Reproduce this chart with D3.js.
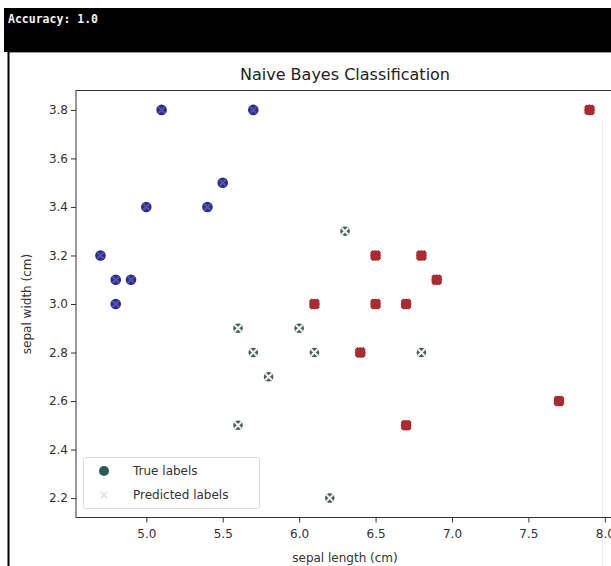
<!DOCTYPE html>
<html>
<head>
<meta charset="utf-8">
<script src="https://cdn.jsdelivr.net/npm/d3@7"></script>
<style>
  body { margin: 0; background: #fff; }
  svg { display: block; }
  text { font-family: "DejaVu Sans", sans-serif; }
</style>
</head>
<body>
<div id="chart"></div>
<script>
// iris test split: sepal length / width, true class, predicted class
const sepalLength = [6.3, 5.6, 6.0, 5.7, 6.1, 6.8, 5.8, 5.6, 6.2,
  5.1, 5.7, 5.5, 5.0, 5.4, 4.7, 4.8, 4.9, 4.8,
  6.5, 6.8, 6.9, 6.1, 6.5, 6.7, 6.4, 7.7, 6.7, 7.9];
const sepalWidth = [3.3, 2.9, 2.9, 2.8, 2.8, 2.8, 2.7, 2.5, 2.2,
  3.8, 3.8, 3.5, 3.4, 3.4, 3.2, 3.1, 3.1, 3.0,
  3.2, 3.2, 3.1, 3.0, 3.0, 3.0, 2.8, 2.6, 2.5, 3.8];
const trueLabel = [1, 1, 1, 1, 1, 1, 1, 1, 1,
  0, 0, 0, 0, 0, 0, 0, 0, 0,
  2, 2, 2, 2, 2, 2, 2, 2, 2, 2];
const predLabel = trueLabel.slice(); // accuracy 1.0
const xTicks = [5.0, 5.5, 6.0, 6.5, 7.0, 7.5, 8.0];
const yTicks = [2.2, 2.4, 2.6, 2.8, 3.0, 3.2, 3.4, 3.6, 3.8];
const legendLabels = ["True labels", "Predicted labels"];

const trueColor = ["#2f2b84", "#48605c", "#9e3034"];
const predColor = ["#4c55b0", "#f2f2f2", "#ad2a30"];

const W = 611, H = 566;
const svg = d3.select("#chart").append("svg")
  .attr("width", W).attr("height", H);

// notebook output frame
svg.append("rect").attr("x", 4).attr("y", 8).attr("width", W - 4).attr("height", 44).attr("fill", "#000");
svg.append("text").attr("x", 8).attr("y", 23)
  .style("font-family", "'DejaVu Sans Mono', monospace").style("font-size", "11.5px")
  .style("font-weight", "bold").attr("fill", "#f4f4f4").text("Accuracy: 1.0");
svg.append("line").attr("x1", 8).attr("x2", W).attr("y1", 52.5).attr("y2", 52.5)
  .attr("stroke", "#9a9a9a");
svg.append("line").attr("x1", 8.5).attr("x2", 8.5).attr("y1", 52).attr("y2", H)
  .attr("stroke", "#000").attr("stroke-width", 2);
svg.append("line").attr("x1", 602.5).attr("x2", 602.5).attr("y1", 120).attr("y2", H)
  .attr("stroke", "#eeeeee");

const mLeft = 76, mRight = 614, mTop = 90.5, mBottom = 517.5;
const x = d3.scaleLinear().domain([4.54, 8.06]).range([mLeft, mRight]);
const y = d3.scaleLinear().domain([2.12, 3.88]).range([mBottom, mTop]);

const xAxis = svg.append("g").attr("transform", `translate(0,${mBottom})`)
  .call(d3.axisBottom(x).tickValues(xTicks).tickFormat(d3.format(".1f")).tickSize(5).tickSizeOuter(0));
const yAxis = svg.append("g").attr("transform", `translate(${mLeft},0)`)
  .call(d3.axisLeft(y).tickValues(yTicks).tickFormat(d3.format(".1f")).tickSize(5).tickSizeOuter(0));
[xAxis, yAxis].forEach(a => {
  a.select(".domain").remove();
  a.selectAll("line").attr("stroke", "#333");
  a.selectAll("text").attr("fill", "#333").style("font-size", "12px")
    .style("font-family", "'DejaVu Sans', sans-serif");
});
xAxis.selectAll("text").attr("dy", "1.05em");

svg.append("rect").attr("x", mLeft).attr("y", mTop)
  .attr("width", mRight - mLeft).attr("height", mBottom - mTop)
  .attr("fill", "none").attr("stroke", "#333").attr("stroke-width", 1);

svg.append("text").attr("x", (mLeft + mRight) / 2).attr("y", 80)
  .attr("text-anchor", "middle").style("font-size", "16px").attr("fill", "#222")
  .text("Naive Bayes Classification");
svg.append("text").attr("x", (mLeft + mRight) / 2).attr("y", 562)
  .attr("text-anchor", "middle").style("font-size", "12px").attr("fill", "#333")
  .text("sepal length (cm)");
svg.append("text").attr("transform", `translate(31,${(mTop + mBottom) / 2}) rotate(-90)`)
  .attr("text-anchor", "middle").style("font-size", "12px").attr("fill", "#333")
  .text("sepal width (cm)");

const idx = d3.range(sepalLength.length);
svg.append("g").selectAll("circle").data(idx).join("circle")
  .attr("cx", i => x(sepalLength[i])).attr("cy", i => y(sepalWidth[i]))
  .attr("r", i => trueLabel[i] === 1 ? 4.8 : 5.3)
  .attr("fill", i => trueColor[trueLabel[i]]);

const cross = d3.symbol().type(d3.symbolTimes).size(30);
const bigCross = d3.symbol().type(d3.symbolTimes).size(48);
svg.append("g").selectAll("path").data(idx).join("path")
  .attr("d", i => predLabel[i] === 2 ? bigCross() : cross())
  .attr("transform", i => `translate(${x(sepalLength[i])},${y(sepalWidth[i])})`)
  .attr("fill", "none")
  .attr("stroke", i => predColor[predLabel[i]])
  .attr("stroke-width", i => predLabel[i] === 2 ? 3.5 : 2);

// legend
const lg = svg.append("g");
lg.append("rect").attr("x", 83.5).attr("y", 457.5).attr("width", 176).attr("height", 51)
  .attr("rx", 2).attr("fill", "#fff").attr("fill-opacity", 0.8).attr("stroke", "#dcdcdc");
lg.append("circle").attr("cx", 104).attr("cy", 471).attr("r", 5)
  .attr("fill", "#2b5a52");
lg.append("path").attr("d", cross).attr("transform", "translate(104,495)")
  .attr("fill", "none").attr("stroke", "#dedede").attr("stroke-width", 1.6);
lg.selectAll("text.lab").data(legendLabels).join("text").attr("class", "lab")
  .attr("x", 133).attr("y", (d, i) => 475 + i * 24)
  .style("font-size", "12px").attr("fill", "#333").text(d => d);
</script>
</body>
</html>
